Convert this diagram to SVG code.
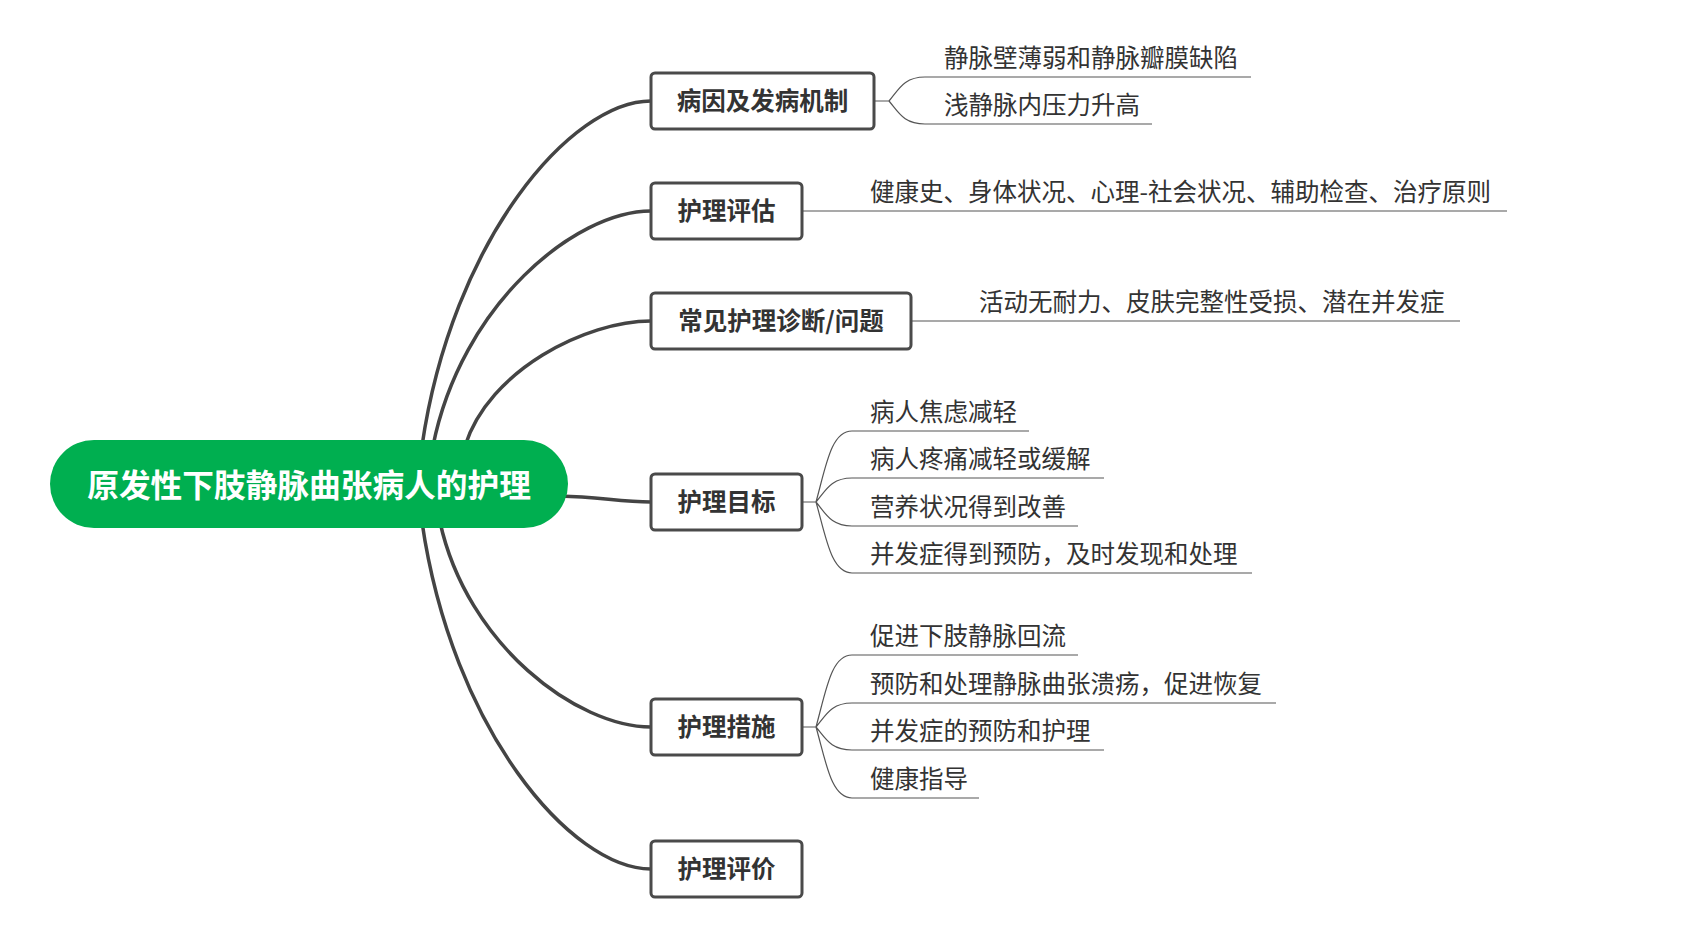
<svg xmlns="http://www.w3.org/2000/svg" width="1693" height="942" viewBox="0 0 1693 942">
<style>
.main{fill:none;stroke:#444;stroke-width:3.5;stroke-linecap:round}
.thin{fill:none;stroke:#555;stroke-width:1.2}
.box{fill:#fff;stroke:#4a4a4a;stroke-width:3}
.bt{font-family:"Noto Sans CJK SC","Noto Sans",sans-serif;font-weight:bold;font-size:24.5px;fill:#333;text-anchor:middle}
.ct{font-family:"Noto Sans CJK SC","Noto Sans",sans-serif;font-size:24.5px;fill:#333}
.root{font-family:"Noto Sans CJK SC","Noto Sans",sans-serif;font-weight:bold;font-size:31.7px;fill:#fff;text-anchor:middle}
</style>
<rect width="1693" height="942" fill="#fff"/>
<g id="connectors">
<path class="main" d="M422 446 C452 240 571 101 651 101"/>
<path class="main" d="M433 446 C461 305 575 211 651 211"/>
<path class="main" d="M465 446 C489 370 586 321 651 321"/>
<path class="main" d="M560 496 C600 497 620 502 651 502"/>
<path class="main" d="M440 522 C467 645 577 727 651 727"/>
<path class="main" d="M422 522 C452 729 571 869 651 869"/>
<path class="thin" d="M874 101 H889 M889 101 C899 89 904 77 925 77 H1251 M889 101 C899 113 904 124 925 124 H1152"/>
<path class="thin" d="M802 211 H1507"/>
<path class="thin" d="M911 321 H1460"/>
<path class="thin" d="M802 502 H816 M816 502 C826 466 831 431 852 431 H1029 M816 502 C826 490 831 478 852 478 H1104 M816 502 C826 514 831 526 852 526 H1078 M816 502 C826 537 831 573 852 573 H1252"/>
<path class="thin" d="M802 727 H816 M816 727 C826 691 831 655 852 655 H1078 M816 727 C826 715 831 703 852 703 H1276 M816 727 C826 739 831 750 852 750 H1104 M816 727 C826 762 831 798 852 798 H979"/>
</g>
<g id="root">
<rect x="50" y="440" width="518" height="88" rx="44" fill="#00AF50"/>
<text class="root" x="309" y="497">原发性下肢静脉曲张病人的护理</text>
</g>
<g id="n1">
<rect class="box" x="651" y="73" width="223" height="56" rx="4"/>
<text class="bt" x="762.5" y="110">病因及发病机制</text>
<text class="ct" x="944" y="67">静脉壁薄弱和静脉瓣膜缺陷</text>
<text class="ct" x="944" y="114">浅静脉内压力升高</text>
</g>
<g id="n2">
<rect class="box" x="651" y="183" width="151" height="56" rx="4"/>
<text class="bt" x="726.5" y="220">护理评估</text>
<text class="ct" x="870" y="201">健康史、身体状况、心理-社会状况、辅助检查、治疗原则</text>
</g>
<g id="n3">
<rect class="box" x="651" y="293" width="260" height="56" rx="4"/>
<text class="bt" x="781" y="330">常见护理诊断/问题</text>
<text class="ct" x="979" y="311">活动无耐力、皮肤完整性受损、潜在并发症</text>
</g>
<g id="n4">
<rect class="box" x="651" y="474" width="151" height="56" rx="4"/>
<text class="bt" x="726.5" y="511">护理目标</text>
<text class="ct" x="870" y="421">病人焦虑减轻</text>
<text class="ct" x="870" y="468">病人疼痛减轻或缓解</text>
<text class="ct" x="870" y="516">营养状况得到改善</text>
<text class="ct" x="870" y="563">并发症得到预防，及时发现和处理</text>
</g>
<g id="n5">
<rect class="box" x="651" y="699" width="151" height="56" rx="4"/>
<text class="bt" x="726.5" y="736">护理措施</text>
<text class="ct" x="870" y="645">促进下肢静脉回流</text>
<text class="ct" x="870" y="693">预防和处理静脉曲张溃疡，促进恢复</text>
<text class="ct" x="870" y="740">并发症的预防和护理</text>
<text class="ct" x="870" y="788">健康指导</text>
</g>
<g id="n6">
<rect class="box" x="651" y="841" width="151" height="56" rx="4"/>
<text class="bt" x="726.5" y="878">护理评价</text>
</g>
</svg>
